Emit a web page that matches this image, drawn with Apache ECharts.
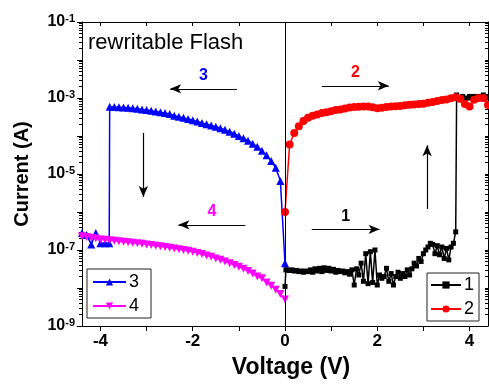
<!DOCTYPE html>
<html>
<head>
<meta charset="utf-8">
<script src="https://cdn.jsdelivr.net/npm/echarts@6/dist/echarts.min.js"></script>
<style>
  html, body { margin: 0; padding: 0; background: #fff; }
  #chart { width: 489px; height: 385px; }
</style>
</head>
<body>
<div id="chart"></div>
<script>
// sweep 1: 0 -> +4.4 V (black squares)
const v1 = [
  0, 0.02, 0.05, 0.10, 0.15, 0.20, 0.25, 0.30, 0.35, 0.40,
  0.45, 0.50, 0.55, 0.60, 0.65, 0.70, 0.75, 0.80, 0.85, 0.90,
  0.95, 1.00, 1.05, 1.10, 1.15, 1.20, 1.25, 1.30, 1.35, 1.40,
  1.45, 1.50, 1.55, 1.60, 1.65, 1.70, 1.75, 1.80, 1.85, 1.90,
  1.95, 2.00, 2.05, 2.10, 2.15, 2.20, 2.25, 2.30, 2.35, 2.40,
  2.45, 2.50, 2.55, 2.60, 2.65, 2.70, 2.75, 2.80, 2.85, 2.90,
  2.95, 3.00, 3.05, 3.10, 3.15, 3.20, 3.25, 3.30, 3.35, 3.40,
  3.45, 3.50, 3.55, 3.60, 3.65, 3.70, 3.72, 3.80, 3.85, 3.90,
  3.95, 4.00, 4.05, 4.10, 4.15, 4.20, 4.25, 4.30, 4.35, 4.40
];
const i1 = [
  1.1e-8, 3.0e-8, 3.0e-8, 2.9e-8, 3.0e-8, 2.8e-8, 2.9e-8, 2.7e-8, 2.8e-8, 2.6e-8,
  2.8e-8, 2.7e-8, 3.0e-8, 2.6e-8, 3.2e-8, 2.8e-8, 3.3e-8, 2.7e-8, 3.4e-8, 2.9e-8,
  3.3e-8, 2.8e-8, 3.1e-8, 2.6e-8, 2.9e-8, 2.7e-8, 2.8e-8, 2.5e-8, 2.7e-8, 2.3e-8,
  3.0e-8, 1.2e-8, 3.2e-8, 2.2e-8, 4.5e-8, 1.5e-8, 8.0e-8, 1.3e-8, 9.0e-8, 1.4e-8,
  1.0e-7, 1.2e-8, 2.2e-8, 1.8e-8, 2.0e-8, 3.3e-8, 1.5e-8, 2.4e-8, 1.2e-8, 2.0e-8,
  2.6e-8, 1.8e-8, 2.4e-8, 2.0e-8, 3.0e-8, 2.2e-8, 3.2e-8, 4.5e-8, 3.8e-8, 6.0e-8,
  5.0e-8, 8.0e-8, 1.0e-7, 1.2e-7, 1.5e-7, 1.4e-7, 8.0e-8, 1.3e-7, 7.5e-8, 1.2e-7,
  6.0e-8, 1.1e-7, 5.5e-8, 1.2e-7, 1.5e-7, 3.0e-7, 1.2e-3, 9.0e-4, 1.1e-3, 8.0e-4,
  1.0e-3, 1.1e-3, 1.0e-3, 1.1e-3, 1.0e-3, 1.1e-3, 1.1e-3, 1.2e-3, 1.1e-3, 1.0e-3
];

// sweep 2: 0 -> +4.4 V (red circles)
const v2 = [
  0, 0.1, 0.2, 0.3, 0.4, 0.5, 0.6, 0.7, 0.8, 0.9,
  1.0, 1.1, 1.2, 1.3, 1.4, 1.5, 1.6, 1.7, 1.8, 1.9,
  2.0, 2.1, 2.2, 2.3, 2.4, 2.5, 2.6, 2.7, 2.8, 2.9,
  3.0, 3.1, 3.2, 3.3, 3.4, 3.5, 3.6, 3.7, 3.8, 3.9,
  4.0, 4.1, 4.2, 4.3, 4.4
];
const i2 = [
  1.0e-6, 6.0e-5, 1.2e-4, 1.8e-4, 2.5e-4, 3.0e-4, 3.4e-4, 3.7e-4, 4.0e-4, 4.2e-4,
  4.5e-4, 4.8e-4, 5.0e-4, 5.3e-4, 5.6e-4, 5.8e-4, 5.9e-4, 6.0e-4, 6.0e-4, 5.7e-4,
  5.4e-4, 5.5e-4, 5.8e-4, 6.0e-4, 6.1e-4, 6.2e-4, 6.4e-4, 6.6e-4, 6.7e-4, 6.9e-4,
  7.1e-4, 7.5e-4, 7.9e-4, 8.3e-4, 8.8e-4, 9.2e-4, 9.8e-4, 1.05e-3, 9.5e-4, 7.0e-4,
  6.0e-4, 9.0e-4, 1.0e-3, 1.0e-3, 6.5e-4
];

// sweep 3: 0 -> -4.4 V (blue up triangles)
const v3 = [
  0, -0.1, -0.2, -0.3, -0.4, -0.5, -0.6, -0.7, -0.8, -0.9,
  -1.0, -1.1, -1.2, -1.3, -1.4, -1.5, -1.6, -1.7, -1.8, -1.9,
  -2.0, -2.1, -2.2, -2.3, -2.4, -2.5, -2.6, -2.7, -2.8, -2.9,
  -3.0, -3.1, -3.2, -3.3, -3.4, -3.5, -3.6, -3.7, -3.8, -3.81,
  -3.9, -4.0, -4.1, -4.2, -4.3, -4.4
];
const i3 = [
  4.5e-8, 6.5e-6, 1.45e-5, 2.2e-5, 3.1e-5, 4.1e-5, 5.2e-5, 6.3e-5, 7.5e-5, 8.7e-5,
  1.0e-4, 1.15e-4, 1.3e-4, 1.45e-4, 1.6e-4, 1.75e-4, 1.9e-4, 2.05e-4, 2.2e-4, 2.4e-4,
  2.6e-4, 2.8e-4, 3.0e-4, 3.2e-4, 3.4e-4, 3.8e-4, 4.0e-4, 4.2e-4, 4.4e-4, 4.6e-4,
  4.8e-4, 5.0e-4, 5.2e-4, 5.4e-4, 5.5e-4, 5.6e-4, 5.7e-4, 5.8e-4, 5.9e-4, 1.5e-7,
  1.5e-7, 1.5e-7, 2.8e-7, 1.4e-7, 2.5e-7, 2.8e-7
];

// sweep 4: 0 -> -4.4 V (magenta down triangles)
const v4 = [
  0, -0.1, -0.2, -0.3, -0.4, -0.5, -0.6, -0.7, -0.8, -0.9,
  -1.0, -1.1, -1.2, -1.3, -1.4, -1.5, -1.6, -1.7, -1.8, -1.9,
  -2.0, -2.1, -2.2, -2.3, -2.4, -2.5, -2.6, -2.7, -2.8, -2.9,
  -3.0, -3.1, -3.2, -3.3, -3.4, -3.5, -3.6, -3.7, -3.8, -3.9,
  -4.0, -4.1, -4.2, -4.3, -4.4
];
const i4 = [
  5.0e-9, 7.0e-9, 9.0e-9, 1.15e-8, 1.4e-8, 1.8e-8, 2.0e-8, 2.4e-8, 2.8e-8, 3.2e-8,
  3.6e-8, 4.0e-8, 4.5e-8, 5.0e-8, 5.5e-8, 6.0e-8, 6.6e-8, 7.2e-8, 7.8e-8, 8.4e-8,
  9.0e-8, 9.5e-8, 1.0e-7, 1.05e-7, 1.1e-7, 1.15e-7, 1.2e-7, 1.25e-7, 1.3e-7, 1.35e-7,
  1.4e-7, 1.45e-7, 1.5e-7, 1.55e-7, 1.6e-7, 1.65e-7, 1.7e-7, 1.75e-7, 1.8e-7, 1.85e-7,
  1.9e-7, 2.0e-7, 2.1e-7, 2.2e-7, 2.3e-7
];

const xLabelValues = [-4, -2, 0, 2, 4];
const xTickValues = [-4, -3, -2, -1, 0, 1, 2, 3, 4];
const yMajorTicks = [1e-9, 1e-8, 1e-7, 1e-6, 1e-5, 1e-4, 1e-3, 1e-2, 1e-1];
const yLabelValues = [1e-9, 1e-7, 1e-5, 1e-3, 1e-1];
const yMinorTicks = [];
yMajorTicks.slice(0, -1).forEach(d => {
  for (let k = 2; k <= 9; k++) yMinorTicks.push(+(d * k).toPrecision(3));
});

const FONT = "'Liberation Sans', Arial, sans-serif";

function pairs(xs, ys) {
  return xs.map((x, i) => [x, ys[i]]);
}

function arrow(from, to, text, color) {
  return [
    {
      coord: from,
      label: text
        ? { show: true, formatter: text, position: 'middle', distance: 5,
            color: color, fontSize: 16, fontWeight: 'bold', fontFamily: FONT }
        : { show: false }
    },
    { coord: to }
  ];
}

const arrowStyle = {
  silent: true,
  symbol: ['none', 'arrow'],
  symbolSize: [7, 11],
  lineStyle: { color: '#000', width: 1.2, type: 'solid' },
  label: { show: false },
  emphasis: { disabled: true }
};

function lineSeries(name, color, symbol, size, data, marks) {
  return {
    name: name,
    type: 'line',
    xAxisIndex: 0,
    yAxisIndex: 0,
    data: data,
    symbol: symbol,
    symbolSize: size,
    showAllSymbol: true,
    color: color,
    lineStyle: { color: color, width: 1.5 },
    itemStyle: { color: color },
    emphasis: { disabled: true },
    animation: false,
    markLine: Object.assign({}, arrowStyle, { data: marks })
  };
}

const axisBase = {
  axisLine: { show: true, onZero: false, lineStyle: { color: '#000', width: 1 } },
  splitLine: { show: false }
};

const legendBase = {
  orient: 'vertical', itemHeight: 9, itemGap: 6,
  borderColor: '#222', borderWidth: 1, selectedMode: false,
  textStyle: { fontSize: 18, fontFamily: FONT, color: '#000', padding: [0, 0, 0, -2] }
};

const chart = echarts.init(document.getElementById('chart'));
chart.setOption({
  animation: false,
  grid: { left: 82, right: 1, top: 22, bottom: 59, outerBoundsMode: 'none' },
  xAxis: [
    Object.assign({}, axisBase, {
      type: 'value', min: -4.4, max: 4.4, position: 'bottom',
      name: 'Voltage (V)', nameLocation: 'middle', nameGap: 30,
      nameTextStyle: { fontSize: 23, fontWeight: 'bold', fontFamily: FONT, color: '#000',
        padding: [0, 0, 0, 12] },
      axisTick: { show: true, inside: false, length: 5, customValues: xTickValues,
        lineStyle: { color: '#000' } },
      axisLabel: { customValues: xLabelValues, margin: 7, fontSize: 17, fontWeight: 'bold',
        fontFamily: FONT, color: '#000' }
    }),
    Object.assign({}, axisBase, {
      type: 'value', min: -4.4, max: 4.4, position: 'top',
      axisTick: { show: true, inside: true, length: 4, customValues: xTickValues,
        lineStyle: { color: '#000' } },
      axisLabel: { show: false }
    })
  ],
  yAxis: [
    Object.assign({}, axisBase, {
      type: 'log', logBase: 10, min: 1e-9, max: 1e-1, position: 'left',
      name: 'Current (A)', nameLocation: 'middle', nameGap: 50, nameRotate: 90,
      nameTextStyle: { fontSize: 20, fontWeight: 'bold', fontFamily: FONT, color: '#000' },
      axisTick: { show: true, inside: false, length: 5, customValues: yMajorTicks,
        lineStyle: { color: '#000' } },
      axisLabel: {
        customValues: yLabelValues, margin: 7,
        formatter: v => '{b|10}{s|' + Math.round(Math.log10(v)) + '}',
        rich: {
          b: { fontSize: 16, fontWeight: 'bold', fontFamily: FONT, color: '#000', lineHeight: 18 },
          s: { fontSize: 11, fontWeight: 'bold', fontFamily: FONT, color: '#000',
               verticalAlign: 'top', lineHeight: 18, padding: [0, 0, 8, 0] }
        }
      }
    }),
    Object.assign({}, axisBase, {
      type: 'log', logBase: 10, min: 1e-9, max: 1e-1, position: 'left',
      axisLine: { show: false, onZero: false },
      axisTick: { show: true, inside: false, length: 3, customValues: yMinorTicks,
        lineStyle: { color: '#000' } },
      axisLabel: { show: false }
    }),
    Object.assign({}, axisBase, {
      type: 'log', logBase: 10, min: 1e-9, max: 1e-1, position: 'right',
      axisTick: { show: true, inside: true, length: 3,
        customValues: yMajorTicks.concat(yMinorTicks), lineStyle: { color: '#000' } },
      axisLabel: { show: false }
    })
  ],
  legend: [
    Object.assign({}, legendBase, {
      data: ['3', '4'], left: 87, top: 269,
      itemWidth: 33, padding: [4, 12, 3, 5]
    }),
    Object.assign({}, legendBase, {
      data: ['1', '2'], left: 427, top: 273,
      itemWidth: 30, padding: [3, 5, 3, 3]
    })
  ],
  graphic: [
    {
      type: 'text', left: 88, top: 32,
      style: { text: 'rewritable Flash', fontSize: 22, fontFamily: FONT, fill: '#000' }
    }
  ],
  series: [
    lineSeries('1', '#000000', 'rect', 5, pairs(v1, i1), [
      arrow([0.58, 3.5e-7], [2.05, 3.5e-7], '1', '#000'),
      arrow([3.08, 1.2e-6], [3.08, 5.7e-5], null),
      [
        { coord: [0, 1e-9], symbol: 'none', label: { show: false },
          lineStyle: { color: '#000', width: 1, type: 'solid' } },
        { coord: [0, 1e-1], symbol: 'none' }
      ]
    ]),
    lineSeries('2', '#ff0000', 'circle', 8, pairs(v2, i2), [
      arrow([0.8, 2.1e-3], [2.25, 2.1e-3], '2', '#ff0000')
    ]),
    lineSeries('3', '#0000ff', 'triangle', 8, pairs(v3, i3), [
      arrow([-1.04, 1.74e-3], [-2.49, 1.74e-3], '3', '#0000ff'),
      arrow([-3.07, 1.2e-4], [-3.07, 2.5e-6], null)
    ]),
    lineSeries('4', '#ff00ff', 'path://M0,0 L10,0 L5,9 Z', 8, pairs(v4, i4), [
      arrow([-0.86, 4.6e-7], [-2.31, 4.6e-7], '4', '#ff00ff')
    ])
  ]
});
</script>
</body>
</html>
